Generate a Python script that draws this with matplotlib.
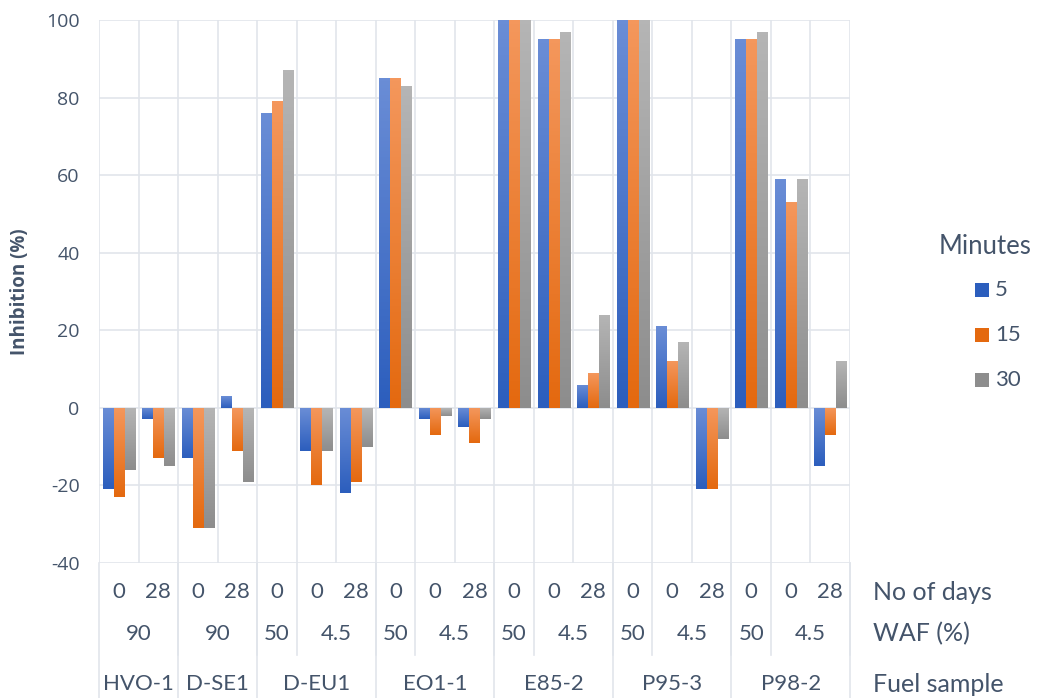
import numpy as np
import matplotlib.pyplot as plt
from matplotlib.colors import LinearSegmentedColormap
from matplotlib.patches import Rectangle
import matplotlib.transforms as mtransforms

plt.rcParams['axes.unicode_minus'] = False

# categories (hierarchical x axis)
fuels = ['HVO-1', 'D-SE1', 'D-EU1', 'EO1-1', 'E85-2', 'P95-3', 'P98-2']
fuel_sizes = [2, 2, 3, 3, 3, 3, 3]
waf_labels = ['90', '90', '50', '4.5', '50', '4.5', '50', '4.5', '50', '4.5', '50', '4.5']
waf_sizes = [2, 2, 1, 2, 1, 2, 1, 2, 1, 2, 1, 2]
days = ['0', '28', '0', '28', '0', '0', '28', '0', '0', '28', '0', '0', '28',
        '0', '0', '28', '0', '0', '28']

# inhibition (%) per minutes
minutes = ['5', '15', '30']
inh_5 = [-21, -3, -13, 3, 76, -11, -22, 85, -3, -5, 100, 95, 6, 100, 21, -21, 95, 59, -15]
inh_15 = [-23, -13, -31, -11, 79, -20, -19, 85, -7, -9, 100, 95, 9, 100, 12, -21, 95, 53, -7]
inh_30 = [-16, -15, -31, -19, 87, -11, -10, 83, -2, -3, 100, 97, 24, 100, 17, -8, 97, 59, 12]

light = ['#6a8dd6', '#f4975c', '#b5b5b5']
dark = ['#2c5ebd', '#e4690f', '#8d8d8d']
grid_c = '#e1e5eb'
txt_c = '#44546a'

fig = plt.figure(figsize=(10.39, 6.98), dpi=100)
W, H = 1039, 698
ax = fig.add_axes([99 / W, (H - 563) / H, (850 - 99) / W, (563 - 20) / H])

n = len(days)
x = np.arange(n)
bw = 0.255
step = 0.278
grad = np.linspace(0, 1, 100).reshape(-1, 1)

for k, vals in enumerate([inh_5, inh_15, inh_30]):
    cmap = LinearSegmentedColormap.from_list('g%d' % k, [dark[k], light[k]])
    bars = ax.bar(x + (k - 1) * step, vals, bw, color=dark[k], zorder=3)
    for b in bars:
        x0, y0 = b.get_x(), b.get_y()
        x1, y1 = x0 + b.get_width(), y0 + b.get_height()
        im = ax.imshow(grad, cmap=cmap, aspect='auto', origin='lower',
                       extent=[x0, x1, min(y0, y1), max(y0, y1)], zorder=4)
        im.set_clip_path(b)

ax.set_xlim(-0.5, n - 0.5)
ax.set_ylim(-40, 100)
ax.set_yticks(np.arange(-40, 101, 20))
ax.set_xticks([])
ax.grid(axis='y', color=grid_c, linewidth=1.2, zorder=0)
for xb in np.arange(-0.5, n, 1.0):
    ax.axvline(xb, color=grid_c, linewidth=1.2, zorder=0)
for s in ax.spines.values():
    s.set_visible(False)
ax.tick_params(axis='y', length=0, pad=14, labelsize=14, labelcolor=txt_c)
for t in ax.get_yticklabels():
    t.set_fontfamily('Open Sans')
ax.set_ylabel('Inhibition (%)', fontsize=13.5, fontweight='bold', color=txt_c,
              family='Open Sans')
ax.yaxis.set_label_coords(-69 / 751, 0.5)

# hierarchical category labels
tr = mtransforms.blended_transform_factory(ax.transData, ax.transAxes)
ah = 563 - 20
def yf(py):
    return (563 - py) / ah

lab_kw = dict(transform=tr, ha='center', va='center', fontsize=16, color=txt_c,
              family='Lato', clip_on=False)
for i, d in enumerate(days):
    ax.text(i, yf(592), d, **lab_kw)

pos = 0
for lab, sz in zip(waf_labels, waf_sizes):
    ax.text(pos + sz / 2 - 0.5, yf(634), lab, **lab_kw)
    pos += sz
    ax.plot([pos - 0.5, pos - 0.5], [0, yf(655)], transform=tr, color=grid_c,
            linewidth=1.2, clip_on=False)

pos = 0
ax.plot([-0.5, -0.5], [0, yf(698)], transform=tr, color=grid_c, linewidth=1.2, clip_on=False)
for lab, sz in zip(fuels, fuel_sizes):
    ax.text(pos + sz / 2 - 0.5, yf(684), lab, **lab_kw)
    pos += sz
    ax.plot([pos - 0.5, pos - 0.5], [0, yf(698)], transform=tr, color=grid_c,
            linewidth=1.2, clip_on=False)

for lab, py in [('No of days', 592), ('WAF (%)', 634), ('Fuel sample', 684)]:
    fig.text(873 / W, 1 - py / H, lab, ha='left', va='center', fontsize=18,
             color=txt_c, family='Lato')

# legend
fig.text(985 / W, 1 - 246 / H, 'Minutes', ha='center', va='center', fontsize=18.5,
         color=txt_c, family='Lato')
for k, (m, py) in enumerate(zip(minutes, [290, 335, 380])):
    fig.patches.append(Rectangle((975 / W, 1 - (py + 7) / H), 14 / W, 14 / H,
                                 transform=fig.transFigure, facecolor=dark[k],
                                 edgecolor='none'))
    fig.text(995 / W, 1 - py / H, m, ha='left', va='center', fontsize=16,
             color=txt_c, family='Lato')

fig.savefig('out.png', dpi=100)
